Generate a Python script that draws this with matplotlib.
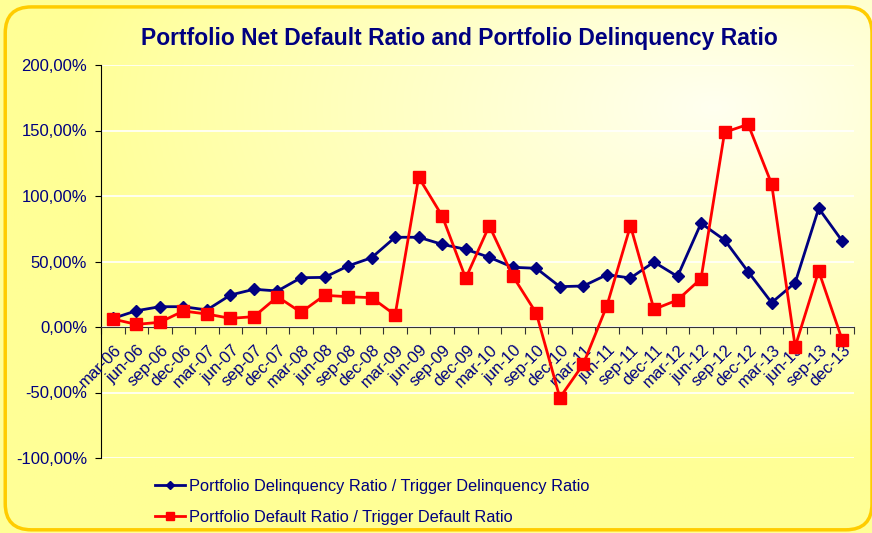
import numpy as np
import matplotlib
matplotlib.use('Agg')
import matplotlib.pyplot as plt
from matplotlib.patches import FancyBboxPatch

plt.rcParams['font.family'] = ['Liberation Sans', 'DejaVu Sans']

# quarters
quarters = ['mar-06', 'jun-06', 'sep-06', 'dec-06', 'mar-07', 'jun-07', 'sep-07', 'dec-07',
            'mar-08', 'jun-08', 'sep-08', 'dec-08', 'mar-09', 'jun-09', 'sep-09', 'dec-09',
            'mar-10', 'jun-10', 'sep-10', 'dec-10', 'mar-11', 'jun-11', 'sep-11', 'dec-11',
            'mar-12', 'jun-12', 'sep-12', 'dec-12', 'mar-13', 'jun-13', 'sep-13', 'dec-13']

# delinquency ratio / trigger (%)
delinq = [6.5, 12.4, 15.5, 15.5, 13.0, 24.4, 28.8, 27.5,
          37.6, 37.9, 46.6, 52.9, 68.5, 68.5, 63.1, 59.3,
          53.2, 45.6, 44.8, 30.8, 31.3, 39.9, 37.4, 49.6,
          38.6, 79.2, 66.4, 42.2, 18.6, 33.8, 90.6, 65.6]

# default ratio / trigger (%)
default = [6.1, 2.0, 3.6, 12.2, 9.9, 6.6, 7.9, 23.1,
           11.2, 24.2, 23.1, 22.4, 9.2, 114.3, 84.7, 37.2,
           77.3, 38.9, 10.5, -54.0, -28.2, 16.3, 77.3, 13.5,
           20.6, 36.9, 148.6, 154.7, 109.2, -15.0, 42.7, -9.9]

yticks = [-100, -50, 0, 50, 100, 150, 200]
ytick_labels = ['-100,00%', '-50,00%', '0,00%', '50,00%', '100,00%', '150,00%', '200,00%']

navy = '#000080'

fig = plt.figure(figsize=(8.72, 5.33), dpi=100)

# background gradient (yellow to pale in upper right)
bg = fig.add_axes([0, 0, 1, 1], zorder=-10)
gx, gy = np.meshgrid(np.linspace(0, 1, 300), np.linspace(0, 1, 200))
d = np.sqrt(((gx - 0.82) / 1.0) ** 2 + ((gy - 0.8) / 0.9) ** 2)
t = np.clip(d / 0.75, 0, 1)
c1 = np.array([255, 255, 240]) / 255
c2 = np.array([255, 255, 150]) / 255
img = c1[None, None, :] * (1 - t[..., None]) + c2[None, None, :] * t[..., None]
bg.imshow(img, extent=[0, 1, 0, 1], origin='lower', aspect='auto')
bg.set_xlim(0, 1)
bg.set_ylim(0, 1)
bg.axis('off')
# golden rounded frame
frame = FancyBboxPatch((0.006, 0.006), 0.994, 0.981, boxstyle='round,pad=0,rounding_size=0.03',
                       transform=bg.transAxes, fill=False, edgecolor='#FFCC00', linewidth=2.5,
                       mutation_aspect=872 / 533, clip_on=False)
bg.add_patch(frame)

ax = fig.add_axes([101 / 872, 75 / 533, 753 / 872, 393 / 533])
ax.set_facecolor('none')
x = np.arange(len(quarters))

ax.plot(x, delinq, color=navy, lw=2, marker='D', markersize=6, zorder=3,
        label='Portfolio Delinquency Ratio / Trigger Delinquency Ratio')
ax.plot(x, default, color='#FF0000', lw=2, marker='s', markersize=8, zorder=4,
        label='Portfolio Default Ratio / Trigger Default Ratio')

ax.set_xlim(-0.5, len(quarters) - 0.5)
ax.set_ylim(-100, 200)
ax.set_yticks(yticks)
ax.set_yticklabels(ytick_labels, color=navy, fontsize=12)
ax.yaxis.grid(True, color='white', lw=1.2)
ax.set_axisbelow(True)

for s in ['top', 'right']:
    ax.spines[s].set_visible(False)
ax.spines['bottom'].set_position(('data', 0))
ax.spines['left'].set_color('black')
ax.spines['bottom'].set_color('#333333')

ax.set_xticks(np.arange(len(quarters) + 1) - 0.5)
ax.set_xticklabels([])
ax.tick_params(axis='x', length=5, direction='out', color='#333333')
ax.tick_params(axis='y', length=4, direction='out', pad=6)

for i, q in enumerate(quarters):
    ax.annotate(q, xy=(i, 0), xycoords='data', xytext=(0.5, -11), textcoords='offset points',
                rotation=45, ha='right', va='top', rotation_mode='anchor',
                color=navy, fontsize=12)

fig.text(0.527, 0.928, 'Portfolio Net Default Ratio and Portfolio Delinquency Ratio',
         ha='center', va='center', color=navy, fontsize=16.5, fontweight='bold')

fig.legend(loc='upper left', bbox_to_anchor=(150 / 872, 1 - 474 / 533), frameon=False,
           fontsize=11.8, labelcolor=navy, handlelength=1.85, handletextpad=0.2,
           labelspacing=0.97, markerscale=0.75, borderaxespad=0, borderpad=0.3)

fig.savefig('out.png', dpi=100)
